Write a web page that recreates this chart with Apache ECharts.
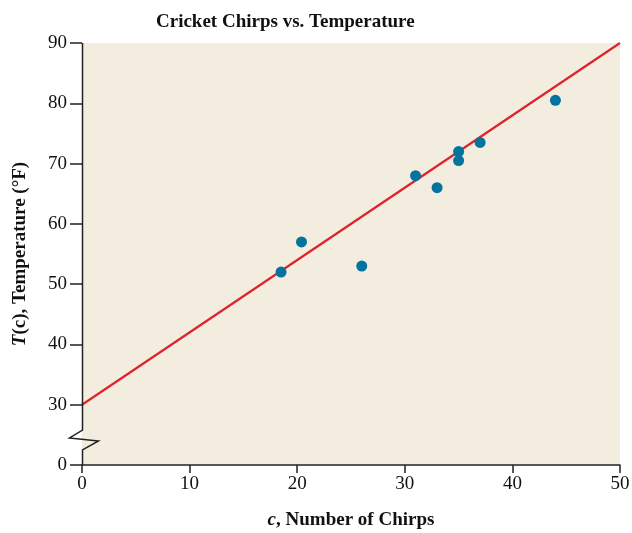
<!DOCTYPE html>
<html>
<head>
<meta charset="utf-8">
<script src="https://cdn.jsdelivr.net/npm/echarts@6/dist/echarts.min.js"></script>
<style>
  html, body { margin: 0; padding: 0; background: #fff; }
  #chart { width: 632px; height: 533px; }
</style>
</head>
<body>
<div id="chart"></div>
<script>
var chirps = [44, 35, 20.4, 33, 31, 35, 18.5, 37, 26];
var temps = [80.5, 70.5, 57, 66, 68, 72, 52, 73.5, 53];
var fitLine = [[0, 30], [50, 90]];
var xTicks = [0, 10, 20, 30, 40, 50];
var yTicks = [0, 30, 40, 50, 60, 70, 80, 90];

var serif = '"Liberation Serif", "DejaVu Serif", serif';

var dom = document.getElementById('chart');
var myChart = echarts.init(dom, null, { renderer: 'canvas' });

var points = chirps.map(function (c, i) { return [c, temps[i]]; });

var option = {
  animation: false,
  title: {
    text: 'Cricket Chirps vs. Temperature',
    left: 151,
    top: 8,
    textStyle: { fontFamily: serif, fontWeight: 'bold', fontSize: 19, color: '#111' }
  },
  grid: {
    left: 82, right: 12, top: 43, bottom: 68,
    outerBoundsMode: 'none', containLabel: false,
    backgroundColor: '#f3ede0', show: true, borderWidth: 0
  },
  xAxis: {
    type: 'value',
    min: 0, max: 50, interval: 10,
    name: '{i|c}, Number of Chirps',
    nameLocation: 'middle',
    nameGap: 46,
    nameTextStyle: {
      fontFamily: serif, fontWeight: 'bold', fontSize: 19, color: '#111',
      rich: { i: { fontFamily: serif, fontWeight: 'bold', fontStyle: 'italic', fontSize: 19, color: '#111' } }
    },
    axisLine: { lineStyle: { color: '#222', width: 1.5 } },
    axisTick: { length: 8, lineStyle: { color: '#222', width: 1.5 } },
    axisLabel: { fontFamily: serif, fontSize: 19, color: '#111', margin: 10,
      formatter: function (v) { return xTicks.indexOf(v) >= 0 ? v : ''; } },
    splitLine: { show: false }
  },
  yAxis: {
    type: 'value',
    min: 20, max: 90, interval: 10,
    name: '{i|T}(c), Temperature (°F)',
    nameLocation: 'middle',
    nameGap: 52,
    nameTextStyle: {
      fontFamily: serif, fontWeight: 'bold', fontSize: 19, color: '#111',
      rich: { i: { fontFamily: serif, fontWeight: 'bold', fontStyle: 'italic', fontSize: 19, color: '#111' } }
    },
    axisLine: { show: false },
    axisTick: { length: 12, lineStyle: { color: '#222', width: 1.5 } },
    axisLabel: { fontFamily: serif, fontSize: 19, color: '#111', margin: 15,
      formatter: function (v) { return v === 20 ? yTicks[0] : v; } },
    splitLine: { show: false }
  },
  series: [
    {
      type: 'line',
      data: fitLine,
      symbol: 'none',
      lineStyle: { color: '#e0232b', width: 2.2 },
      z: 2
    },
    {
      type: 'scatter',
      data: points,
      symbolSize: 11,
      itemStyle: { color: '#04739d', opacity: 1 },
      z: 3
    }
  ]
};

myChart.setOption(option);

// y axis drawn by hand so it can carry the break mark between 0 and 30
function px(v) { return myChart.convertToPixel({ gridIndex: 0 }, [0, v]); }
var ax = px(90)[0] + 0.5;
var zig = [[0, 90], [0, 25.8], [-13, 24.5], [16, 24.0], [0, 22.5], [0, 20]].map(function (p) {
  return [ax + p[0], px(p[1])[1]];
});
myChart.setOption({
  graphic: [{
    type: 'polyline',
    shape: { points: zig },
    style: { stroke: '#222', lineWidth: 1.5, fill: null },
    z: 10
  }]
});

window.addEventListener('resize', myChart.resize);
</script>
</body>
</html>
